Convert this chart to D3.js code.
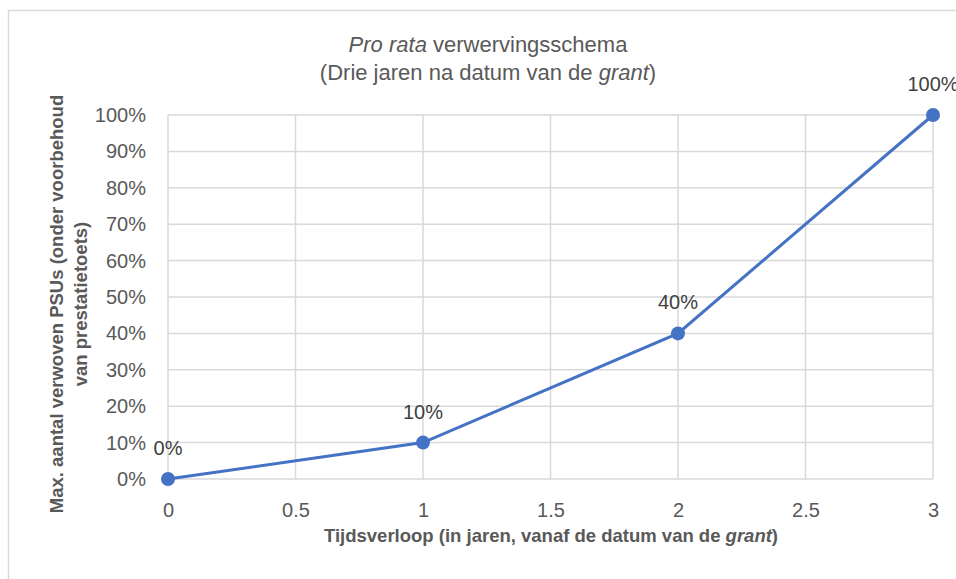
<!DOCTYPE html>
<html>
<head>
<meta charset="utf-8">
<script src="https://cdn.jsdelivr.net/npm/d3@7"></script>
<style>
  body { margin: 0; background: #fff; }
  text { font-family: 'Liberation Sans', Arial, sans-serif; }
</style>
</head>
<body>
<div id="chart"></div>
<script>
// data
var years = [0, 1, 2, 3]
var shares = [0, 0.1, 0.4, 1]
var labels = ['0%', '10%', '40%', '100%']
var xTicks = [0, 0.5, 1, 1.5, 2, 2.5, 3]
var yTicks = [0, 0.1, 0.2, 0.3, 0.4, 0.5, 0.6, 0.7, 0.8, 0.9, 1]

var points = years.map(function(d, i) {
  return { x: d, y: shares[i], label: labels[i] }
})

var margin = { top: 115, left: 168, right: 23, bottom: 100 }
var width = 956 - margin.left - margin.right
var height = 579 - margin.top - margin.bottom

var svg = d3
  .select('#chart')
  .append('svg')
  .attr('width', 956)
  .attr('height', 579)

// chart border
svg
  .append('rect')
  .attr('x', 8.5)
  .attr('y', 10.5)
  .attr('width', 960)
  .attr('height', 600)
  .attr('fill', 'none')
  .attr('stroke', '#d9d9d9')
  .attr('stroke-width', 1.5)

var g = svg.append('g').attr('transform', `translate(${margin.left},${margin.top})`)

var xPositionScale = d3.scaleLinear().domain([0, 3]).range([0, width])
var yPositionScale = d3.scaleLinear().domain([0, 1]).range([height, 0])

// gridlines
g.selectAll('.hgrid')
  .data(yTicks)
  .enter()
  .append('line')
  .attr('x1', 0)
  .attr('x2', width)
  .attr('y1', d => yPositionScale(d))
  .attr('y2', d => yPositionScale(d))
  .attr('stroke', '#d9d9d9')
  .attr('stroke-width', 1.5)

g.selectAll('.vgrid')
  .data(xTicks)
  .enter()
  .append('line')
  .attr('x1', d => xPositionScale(d))
  .attr('x2', d => xPositionScale(d))
  .attr('y1', 0)
  .attr('y2', height)
  .attr('stroke', '#d9d9d9')
  .attr('stroke-width', 1.5)

// axes (labels only)
var xAxis = d3.axisBottom(xPositionScale).tickValues(xTicks).tickSize(0).tickPadding(24).tickFormat(d3.format('~g'))
g.append('g')
  .attr('class', 'axis x-axis')
  .attr('transform', 'translate(0,' + height + ')')
  .call(xAxis)

var yAxis = d3.axisLeft(yPositionScale).tickValues(yTicks).tickSize(0).tickPadding(22).tickFormat(d3.format('.0%'))
g.append('g')
  .attr('class', 'axis y-axis')
  .call(yAxis)

g.selectAll('.axis .domain').remove()
g.selectAll('.axis text')
  .attr('fill', '#595959')
  .style('font-size', '20px')
  .style('font-family', "'Liberation Sans', Arial, sans-serif")

// line
var line = d3
  .line()
  .x(d => xPositionScale(d.x))
  .y(d => yPositionScale(d.y))

g.append('path')
  .datum(points)
  .attr('d', line)
  .attr('fill', 'none')
  .attr('stroke', '#4472c4')
  .attr('stroke-width', 3)

g.selectAll('.dot')
  .data(points)
  .enter()
  .append('circle')
  .attr('cx', d => xPositionScale(d.x))
  .attr('cy', d => yPositionScale(d.y))
  .attr('r', 7)
  .attr('fill', '#4472c4')

// data labels
g.selectAll('.lbl')
  .data(points)
  .enter()
  .append('text')
  .attr('x', d => xPositionScale(d.x))
  .attr('y', d => yPositionScale(d.y) - 24)
  .attr('text-anchor', 'middle')
  .attr('fill', '#404040')
  .style('font-size', '20px')
  .text(d => d.label)

// title
var title = svg.append('text')
  .attr('x', 488)
  .attr('y', 52)
  .attr('text-anchor', 'middle')
  .attr('fill', '#595959')
  .style('font-size', '22px')
title.append('tspan').style('font-style', 'italic').text('Pro rata')
title.append('tspan').text(' verwervingsschema')

var title2 = svg.append('text')
  .attr('x', 488)
  .attr('y', 80)
  .attr('text-anchor', 'middle')
  .attr('fill', '#595959')
  .style('font-size', '22px')
title2.append('tspan').text('(Drie jaren na datum van de ')
title2.append('tspan').style('font-style', 'italic').text('grant')
title2.append('tspan').text(')')

// x axis title
var xt = svg.append('text')
  .attr('x', 551)
  .attr('y', 542)
  .attr('text-anchor', 'middle')
  .attr('fill', '#595959')
  .style('font-size', '18.5px')
  .style('font-weight', 'bold')
xt.append('tspan').text('Tijdsverloop (in jaren, vanaf de datum van de ')
xt.append('tspan').style('font-style', 'italic').text('grant')
xt.append('tspan').text(')')

// y axis title
var yt = svg.append('text')
  .attr('transform', 'translate(63,304) rotate(-90)')
  .attr('text-anchor', 'middle')
  .attr('fill', '#595959')
  .style('font-size', '18.5px')
  .style('font-weight', 'bold')
yt.append('tspan').attr('x', 0).attr('dy', 0).text('Max. aantal verwoven PSUs (onder voorbehoud')
yt.append('tspan').attr('x', 0).attr('dy', 24).text('van prestatietoets)')
</script>
</body>
</html>
